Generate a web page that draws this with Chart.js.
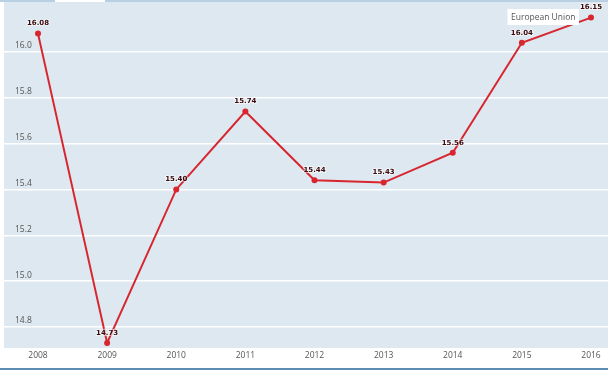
<!DOCTYPE html>
<html>
<head>
<meta charset="utf-8">
<script src="https://cdn.jsdelivr.net/npm/chart.js@4/dist/chart.umd.min.js"></script>
<style>
  html, body { margin: 0; padding: 0; background: #fff; }
  #wrap { width: 608px; height: 370px; position: relative; }
</style>
</head>
<body>
<div id="wrap"><canvas id="chart"></canvas></div>
<script>
const years = [2008, 2009, 2010, 2011, 2012, 2013, 2014, 2015, 2016];
const values = [16.08, 14.73, 15.40, 15.74, 15.44, 15.43, 15.56, 16.04, 16.15];
const yTicks = [14.8, 15.0, 15.2, 15.4, 15.6, 15.8, 16.0];
const seriesName = "European Union";

// light blue plot background, tab strip on top, rule at the bottom
const frame = {
    id: 'frame',
    beforeDraw(chart) {
        const ctx = chart.ctx, a = chart.chartArea;
        ctx.save();
        ctx.fillStyle = '#dde8f0';
        ctx.fillRect(a.left, a.top, a.right - a.left, a.bottom - a.top);
        ctx.fillStyle = '#b9d0e2';
        ctx.fillRect(0, 0, 55, 2);
        ctx.fillRect(105, 0, chart.width - 105, 2);
        ctx.fillStyle = '#5d8db3';
        ctx.fillRect(0, chart.height - 2, chart.width, 2);
        ctx.restore();
    }
};

const legendBox = {
    id: 'legendBox',
    afterDatasetsDraw(chart) {
        const ctx = chart.ctx;
        ctx.save();
        ctx.font = '8.5px "Open Sans"';
        const w = ctx.measureText(seriesName).width + 7;
        const x = 579 - w, y = 9;
        ctx.fillStyle = '#ffffff';
        ctx.fillRect(x, y, w, 16);
        ctx.fillStyle = '#555';
        ctx.textBaseline = 'middle';
        ctx.fillText(seriesName, x + 3.5, y + 8.5);
        ctx.restore();
    }
};

const pointLabels = {
    id: 'pointLabels',
    afterDatasetsDraw(chart) {
        const ctx = chart.ctx;
        const meta = chart.getDatasetMeta(0);
        ctx.save();
        ctx.font = 'bold 7px "DejaVu Sans"';
        ctx.textAlign = 'center';
        ctx.textBaseline = 'middle';
        meta.data.forEach((pt, i) => {
            const txt = values[i].toFixed(2);
            ctx.lineWidth = 2;
            ctx.strokeStyle = 'rgba(255,255,255,0.5)';
            ctx.strokeText(txt, pt.x, pt.y - 10);
            ctx.fillStyle = '#3b0a0c';
            ctx.fillText(txt, pt.x, pt.y - 10);
        });
        ctx.restore();
    }
};

new Chart(document.getElementById("chart"), {
    type: 'line',
    data: {
        datasets: [{
            label: seriesName,
            data: years.map((yr, i) => ({ x: yr, y: values[i] })),
            borderColor: '#d7262f',
            backgroundColor: '#d7262f',
            borderWidth: 2,
            pointRadius: 3,
            pointBorderWidth: 0,
            tension: 0
        }]
    },
    options: {
        responsive: true,
        maintainAspectRatio: false,
        animation: false,
        layout: {
            autoPadding: false,
            padding: { left: 4, right: 0, top: 2, bottom: 2 }
        },
        plugins: {
            legend: { display: false },
            tooltip: { enabled: false }
        },
        scales: {
            x: {
                type: 'linear',
                min: 2007.508,
                max: 2016.246,
                afterBuildTicks: axis => { axis.ticks = years.map(v => ({ value: v })); },
                afterFit: axis => {
                    axis.height = 20;
                    axis.paddingLeft = 0;
                    axis.paddingRight = 0;
                },
                grid: { display: false, drawTicks: false },
                border: { display: false },
                ticks: {
                    padding: 2,
                    color: '#555',
                    font: { family: 'Open Sans', size: 8.5 },
                    maxRotation: 0,
                    callback: v => String(v)
                }
            },
            y: {
                min: 14.708,
                max: 16.218,
                afterBuildTicks: axis => { axis.ticks = yTicks.map(v => ({ value: v })); },
                afterFit: axis => {
                    axis.width = 0;
                    axis.paddingTop = 0;
                    axis.paddingBottom = 0;
                },
                grid: { color: '#ffffff', lineWidth: 1.5, drawTicks: false },
                border: { display: false },
                ticks: {
                    mirror: true,
                    padding: 11,
                    labelOffset: -6,
                    color: '#555',
                    font: { family: 'Open Sans', size: 8.5 },
                    callback: v => v.toFixed(1)
                }
            }
        }
    },
    plugins: [frame, legendBox, pointLabels]
});
</script>
</body>
</html>
